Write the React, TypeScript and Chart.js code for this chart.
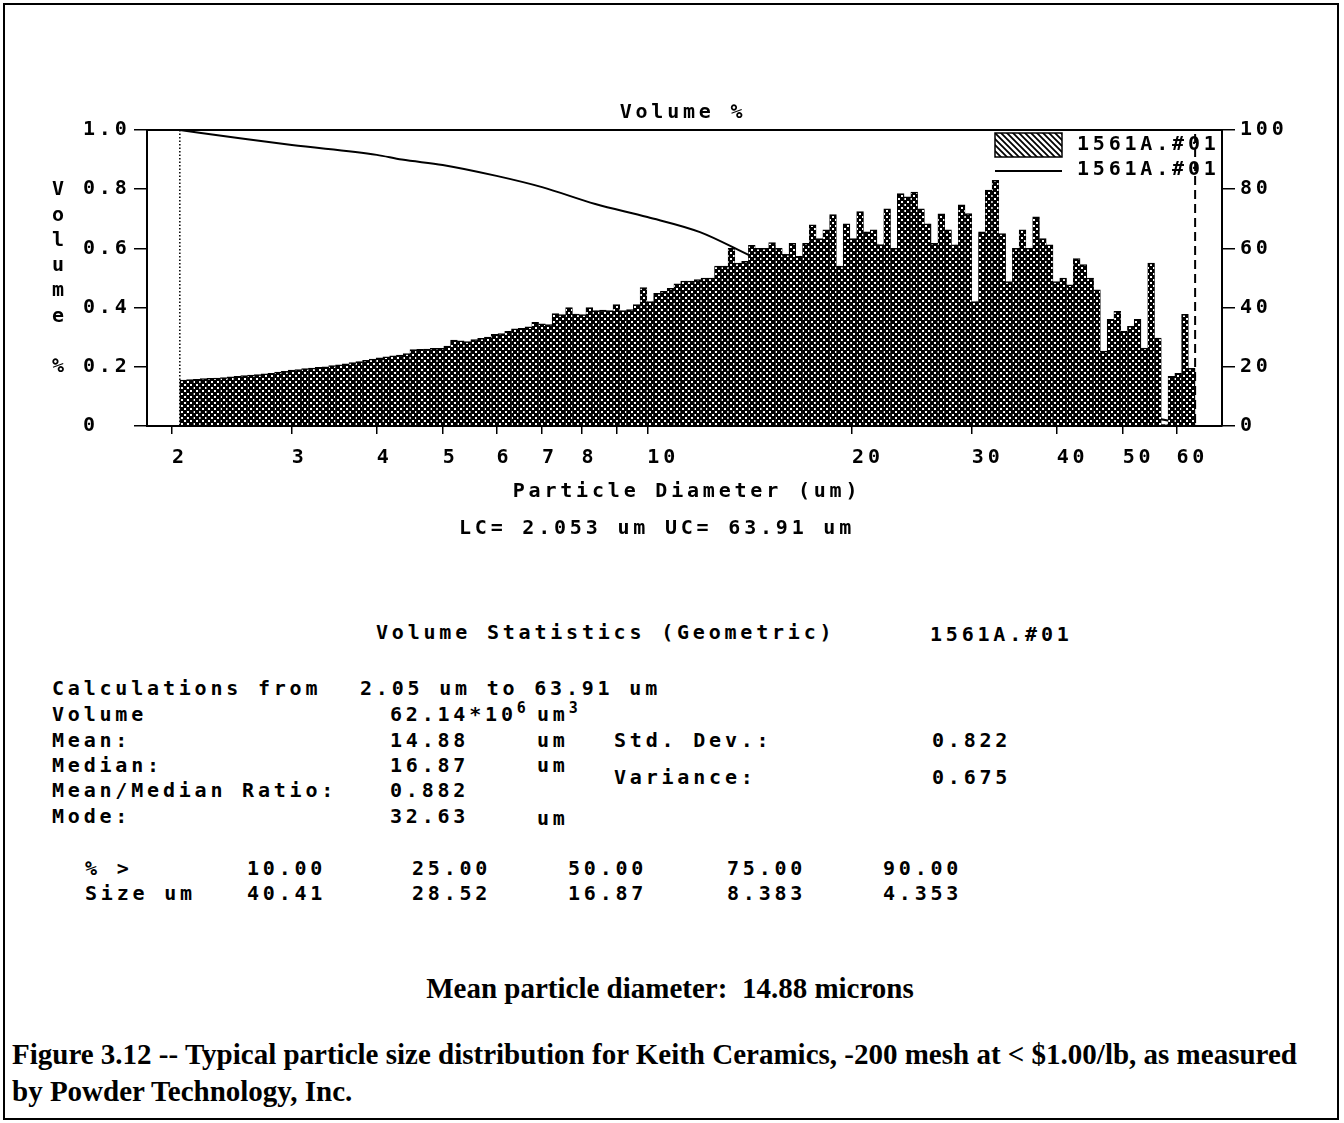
import React, { useEffect, useRef } from "react";
import { Chart, registerables } from "chart.js";

Chart.register(...registerables);

// ---------- data ----------
const seriesName = "1561A.#01";
const LC = 2.053; // lower channel limit (um)
const UC = 63.91; // upper channel limit (um)

// volume fraction per log-spaced channel between LC and UC (left axis)
const volumeFraction = [
  0.155, 0.157, 0.158, 0.16, 0.161, 0.162, 0.164, 0.166, 0.168, 0.17,
  0.172, 0.174, 0.176, 0.178, 0.182, 0.185, 0.189, 0.191, 0.194, 0.196,
  0.198, 0.2, 0.204, 0.207, 0.21, 0.214, 0.218, 0.222, 0.226, 0.23,
  0.234, 0.237, 0.24, 0.245, 0.258, 0.259, 0.26, 0.262, 0.262, 0.27,
  0.29, 0.288, 0.285, 0.292, 0.296, 0.3, 0.31, 0.312, 0.32, 0.328,
  0.33, 0.335, 0.35, 0.345, 0.343, 0.38, 0.376, 0.4, 0.378, 0.376,
  0.4, 0.39, 0.392, 0.39, 0.41, 0.39, 0.393, 0.41, 0.468, 0.42,
  0.448, 0.455, 0.465, 0.48, 0.49, 0.49, 0.495, 0.5, 0.5, 0.54,
  0.54, 0.6, 0.55, 0.556, 0.61, 0.6, 0.6, 0.62, 0.6, 0.58,
  0.617, 0.573, 0.617, 0.68, 0.633, 0.663, 0.714, 0.54, 0.683, 0.633,
  0.724, 0.656, 0.663, 0.613, 0.734, 0.6, 0.785, 0.774, 0.79, 0.734,
  0.683, 0.617, 0.717, 0.663, 0.612, 0.747, 0.718, 0.42, 0.656, 0.797,
  0.83, 0.65, 0.488, 0.6, 0.663, 0.6, 0.707, 0.633, 0.612, 0.488,
  0.5, 0.477, 0.566, 0.545, 0.5, 0.46, 0.253, 0.36, 0.387, 0.32,
  0.337, 0.36, 0.263, 0.55, 0.297, 0.005, 0.168, 0.178, 0.377, 0.195,
];

// cumulative "% greater than" curve (right axis)
const cumDiameters = [2.053, 2.5, 3, 4, 4.353, 5, 6, 7, 8.383, 10, 11.95, 14.3, 16.87, 28.52, 40.41, 63.91];
const cumPercent = [100, 97.3, 94.9, 91.6, 90, 88.2, 84.5, 80.7, 75, 70.6, 65.5, 57.1, 50, 25, 10, 0];

const xTickValues = [2, 3, 4, 5, 6, 7, 8, 9, 10, 20, 30, 40, 50, 60];
const xTickLabels = ["2", "3", "4", "5", "6", "7", "8", "", "10", "20", "30", "40", "50", "60"];
const leftTickValues = [0, 0.2, 0.4, 0.6, 0.8, 1.0];
const leftTickLabels = ["0", "0.2", "0.4", "0.6", "0.8", "1.0"];
const rightTickValues = [0, 20, 40, 60, 80, 100];
const rightTickLabels = ["0", "20", "40", "60", "80", "100"];

const pctGreater = ["10.00", "25.00", "50.00", "75.00", "90.00"];
const pctSizes = ["40.41", "28.52", "16.87", "8.383", "4.353"];

// ---------- style ----------
const MONO = "'DejaVu Sans Mono', monospace";
const SERIF = "'Liberation Serif', 'Times New Roman', serif";
const LS = "3.8px";
const FONT = `bold 20px ${MONO}`;

function channelCentres(n: number) {
  const out: number[] = [];
  for (let i = 0; i < n; i++) out.push(LC * Math.pow(UC / LC, (i + 0.5) / n));
  return out;
}

function makeDotPattern(ctx: CanvasRenderingContext2D) {
  const c = document.createElement("canvas");
  c.width = 6;
  c.height = 6;
  const g = c.getContext("2d")!;
  g.fillStyle = "#000";
  g.fillRect(0, 0, 6, 6);
  g.fillStyle = "#fff";
  g.fillRect(1, 1, 2, 2);
  g.fillRect(4, 4, 2, 2);
  return ctx.createPattern(c, "repeat")!;
}

function makeHatchPattern(ctx: CanvasRenderingContext2D) {
  const c = document.createElement("canvas");
  c.width = 6;
  c.height = 6;
  const g = c.getContext("2d")!;
  g.fillStyle = "#fff";
  g.fillRect(0, 0, 6, 6);
  g.strokeStyle = "#000";
  g.lineWidth = 1.8;
  g.beginPath();
  g.moveTo(-1, -1);
  g.lineTo(7, 7);
  g.moveTo(-1, 5);
  g.lineTo(1, 7);
  g.moveTo(5, -1);
  g.lineTo(7, 1);
  g.stroke();
  return ctx.createPattern(c, "repeat")!;
}

const decorPlugin = {
  id: "decor",
  beforeUpdate(chart: any) {
    chart.ctx.letterSpacing = LS;
  },
  beforeDraw(chart: any) {
    chart.ctx.letterSpacing = LS;
  },
  beforeDatasetsDraw(chart: any) {
    const { ctx, chartArea: a, scales } = chart;
    const x = scales.x.getPixelForValue(LC);
    ctx.save();
    ctx.strokeStyle = "#000";
    ctx.lineWidth = 1.5;
    ctx.setLineDash([1.5, 2]);
    ctx.beginPath();
    ctx.moveTo(x, a.top);
    ctx.lineTo(x, a.bottom);
    ctx.stroke();
    ctx.restore();
  },
  afterDatasetsDraw(chart: any) {
    const { ctx, chartArea: a, scales } = chart;
    ctx.save();
    ctx.letterSpacing = LS;
    ctx.strokeStyle = "#000";
    ctx.fillStyle = "#000";

    // upper limit dashed line
    const xu = scales.x.getPixelForValue(UC);
    ctx.lineWidth = 2;
    ctx.setLineDash([9, 5]);
    ctx.beginPath();
    ctx.moveTo(xu, a.top + 4);
    ctx.lineTo(xu, a.bottom);
    ctx.stroke();
    ctx.setLineDash([]);

    // top frame line
    ctx.lineWidth = 2;
    ctx.beginPath();
    ctx.moveTo(a.left, a.top);
    ctx.lineTo(a.right, a.top);
    ctx.stroke();

    ctx.font = FONT;
    ctx.textBaseline = "middle";

    // title
    ctx.textAlign = "center";
    ctx.fillText("Volume %", a.left + 536, a.top - 17);

    // vertical y title (stacked letters)
    const letters = ["V", "o", "l", "u", "m", "e", "", "%"];
    ctx.letterSpacing = "0px";
    letters.forEach((ch, i) => {
      if (ch) ctx.fillText(ch, 58, a.top + 60 + i * 25.3);
    });
    ctx.letterSpacing = LS;

    // x titles
    ctx.fillText("Particle Diameter (um)", a.left + 540, a.bottom + 66);
    ctx.fillText(`LC= ${LC} um UC= ${UC} um`, a.left + 510, a.bottom + 103);

    // legend
    const bx = a.right - 227;
    const bw = 67;
    ctx.fillStyle = chart.$hatch;
    ctx.fillRect(bx, a.top + 3, bw, 24);
    ctx.lineWidth = 1.5;
    ctx.strokeRect(bx, a.top + 3, bw, 24);
    ctx.beginPath();
    ctx.lineWidth = 2;
    ctx.moveTo(bx, a.top + 41);
    ctx.lineTo(bx + bw, a.top + 41);
    ctx.stroke();
    ctx.fillStyle = "#000";
    ctx.textAlign = "left";
    ctx.fillText(seriesName, a.right - 145, a.top + 15);
    ctx.fillText(seriesName, a.right - 145, a.top + 40);
    ctx.restore();
  },
};

const monoStyle: React.CSSProperties = {
  position: "absolute",
  fontFamily: MONO,
  fontWeight: "bold",
  fontSize: 20,
  letterSpacing: LS,
  lineHeight: "22px",
  whiteSpace: "pre",
  color: "#000",
};

function T({ x, y, children }: { x: number; y: number; children: React.ReactNode }) {
  return <div style={{ ...monoStyle, left: x, top: y - 11 }}>{children}</div>;
}

const supStyle: React.CSSProperties = { fontSize: 15, position: "relative", top: -8, letterSpacing: "1px" };

export default function App() {
  const ref = useRef<HTMLCanvasElement>(null);

  useEffect(() => {
    const canvas = ref.current!;
    const ctx2 = canvas.getContext("2d")!;
    const dot = makeDotPattern(ctx2);
    const hatch = makeHatchPattern(ctx2);
    const centres = channelCentres(volumeFraction.length);
    const tickFont = { family: MONO, size: 20, weight: "bold" as const };

    const chart: any = new Chart(canvas, {
      type: "bar",
      data: {
        datasets: [
          {
            type: "bar",
            label: seriesName,
            data: centres.map((d, i) => ({ x: d, y: volumeFraction[i] })),
            yAxisID: "y",
            backgroundColor: dot,
            borderColor: "#000",
            borderWidth: { top: 1.5, left: 0.6, right: 0.6, bottom: 0 },
            borderSkipped: false,
            barPercentage: 1,
            categoryPercentage: 1,
            order: 1,
          } as any,
          {
            type: "line",
            label: seriesName,
            data: cumDiameters.map((d, i) => ({ x: d, y: cumPercent[i] })),
            yAxisID: "yR",
            borderColor: "#000",
            borderWidth: 2,
            pointRadius: 0,
            cubicInterpolationMode: "monotone",
            order: 2,
          } as any,
        ],
      },
      options: {
        responsive: false,
        animation: false,
        devicePixelRatio: 1,
        layout: { padding: { left: 83, top: 50, right: 0, bottom: 0 } },
        plugins: { legend: { display: false }, tooltip: { enabled: false }, title: { display: false } },
        scales: {
          x: {
            type: "logarithmic",
            min: 1.837,
            max: 70,
            offset: false,
            afterBuildTicks: (s: any) => {
              s.ticks = xTickValues.map((v) => ({ value: v }));
            },
            afterFit: (s: any) => {
              s.height = 134;
            },
            ticks: {
              autoSkip: false,
              maxRotation: 0,
              minRotation: 0,
              align: "start",
              padding: 12,
              color: "#000",
              font: tickFont,
              callback: (_v: any, i: number) => xTickLabels[i],
            },
            grid: {
              display: true,
              drawOnChartArea: false,
              drawTicks: true,
              tickLength: 8,
              color: "#000",
              lineWidth: 1.5,
              offset: false,
            },
            border: { display: true, color: "#000", width: 2 },
          },
          y: {
            position: "left",
            min: 0,
            max: 1,
            afterBuildTicks: (s: any) => {
              s.ticks = leftTickValues.map((v) => ({ value: v }));
            },
            afterFit: (s: any) => {
              s.width = 64;
            },
            ticks: {
              crossAlign: "far",
              padding: 4,
              color: "#000",
              font: tickFont,
              callback: (_v: any, i: number) => leftTickLabels[i],
            },
            grid: { display: true, drawOnChartArea: false, tickLength: 13, color: "#000", lineWidth: 1.5 },
            border: { display: true, color: "#000", width: 2 },
          },
          yR: {
            position: "right",
            min: 0,
            max: 100,
            afterBuildTicks: (s: any) => {
              s.ticks = rightTickValues.map((v) => ({ value: v }));
            },
            afterFit: (s: any) => {
              s.width = 122;
            },
            ticks: {
              padding: 5,
              color: "#000",
              font: tickFont,
              callback: (_v: any, i: number) => rightTickLabels[i],
            },
            grid: { display: true, drawOnChartArea: false, tickLength: 13, color: "#000", lineWidth: 1.5 },
            border: { display: true, color: "#000", width: 2 },
          },
        },
      } as any,
      plugins: [decorPlugin as any],
    });
    chart.$hatch = hatch;
    chart.update();
    return () => chart.destroy();
  }, []);

  const pctCols = [247, 412, 568, 727, 883];

  return (
    <div style={{ position: "absolute", left: 0, top: 0, width: 1344, height: 1123, background: "#fff", overflow: "hidden" }}>
      <div style={{ position: "absolute", left: 3, top: 3, width: 1332, height: 1113, border: "2px solid #000" }} />
      <canvas ref={ref} width={1344} height={480} style={{ position: "absolute", left: 0, top: 80, width: 1344, height: 480 }} />

      <T x={376} y={632}>Volume Statistics (Geometric)</T>
      <T x={930} y={634}>{seriesName}</T>

      <T x={52} y={688}>Calculations from</T>
      <T x={360} y={688}>2.05 um to 63.91 um</T>
      <T x={52} y={714}>Volume</T>
      <T x={390} y={714}>
        62.14*10<span style={supStyle}>6</span>
      </T>
      <T x={537} y={714}>
        um<span style={supStyle}>3</span>
      </T>
      <T x={52} y={740}>Mean:</T>
      <T x={390} y={740}>14.88</T>
      <T x={537} y={740}>um</T>
      <T x={614} y={740}>Std. Dev.:</T>
      <T x={932} y={740}>0.822</T>
      <T x={52} y={765}>Median:</T>
      <T x={390} y={765}>16.87</T>
      <T x={537} y={765}>um</T>
      <T x={614} y={777}>Variance:</T>
      <T x={932} y={777}>0.675</T>
      <T x={52} y={790}>Mean/Median Ratio:</T>
      <T x={390} y={790}>0.882</T>
      <T x={52} y={816}>Mode:</T>
      <T x={390} y={816}>32.63</T>
      <T x={537} y={818}>um</T>

      <T x={85} y={868}>% &gt;</T>
      <T x={85} y={893}>Size um</T>
      {pctGreater.map((p, i) => (
        <T key={"p" + i} x={pctCols[i]} y={868}>
          {p}
        </T>
      ))}
      {pctSizes.map((p, i) => (
        <T key={"s" + i} x={pctCols[i]} y={893}>
          {p}
        </T>
      ))}

      <div
        style={{
          position: "absolute",
          left: 0,
          width: 1340,
          top: 971,
          textAlign: "center",
          fontFamily: SERIF,
          fontWeight: "bold",
          fontSize: 29,
          lineHeight: "34px",
          whiteSpace: "pre",
        }}
      >
        {"Mean particle diameter:  14.88 microns"}
      </div>
      <div
        style={{
          position: "absolute",
          left: 12,
          top: 1036,
          width: 1326,
          fontFamily: SERIF,
          fontWeight: "bold",
          fontSize: 29,
          lineHeight: "37px",
          whiteSpace: "nowrap",
        }}
      >
        Figure 3.12 -- Typical particle size distribution for Keith Ceramics, -200 mesh at &lt; $1.00/lb, as measured
        <br />
        by Powder Technology, Inc.
      </div>
    </div>
  );
}
